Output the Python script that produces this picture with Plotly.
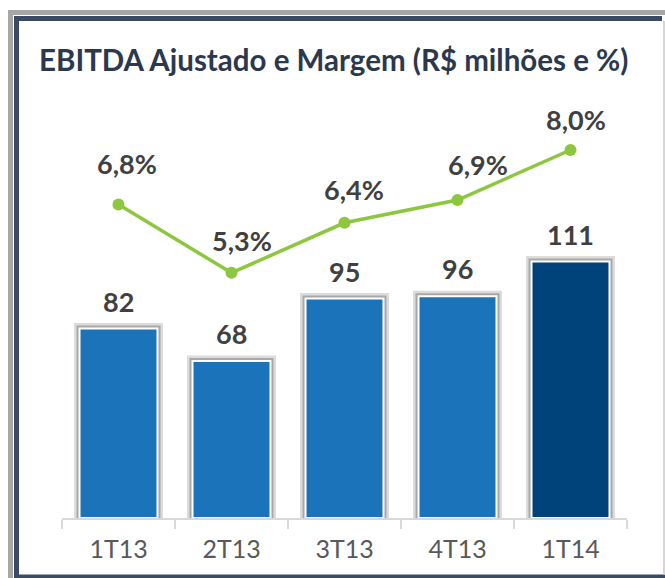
import plotly.graph_objects as go

categories = ["1T13", "2T13", "3T13", "4T13", "1T14"]
ebitda = [82, 68, 95, 96, 111]
margem = [6.8, 5.3, 6.4, 6.9, 8.0]
bar_colors = ["#1B73BA", "#1B73BA", "#1B73BA", "#1B73BA", "#00427A"]
margem_labels = [f"{v:.1f}%".replace(".", ",") for v in margem]

# label offsets (style), pixels
line_label_dx = [8, 10, 9, 20, 5]
line_label_dy = [23, 14, 15, 17, 12]

W, H = 665, 578
L, R, T, B = 62, 38, 100, 60
pw, ph = W - L - R, H - T - B


def px(x):
    return (x - L) / pw


def py(y):
    return (H - B - y) / ph


LABEL_FONT = dict(family="Lato", size=27, color="#404040", weight="bold")

fig = go.Figure()

# soft shadow underlays
fig.add_trace(go.Bar(
    x=categories, y=ebitda, width=0.69,
    marker=dict(color="#DCDCDC", line=dict(color="#DCDCDC", width=11)),
    hoverinfo="skip", showlegend=False,
))
fig.add_trace(go.Bar(
    x=categories, y=ebitda, width=0.69,
    marker=dict(color="#A8A8A8", line=dict(color="#A8A8A8", width=6)),
    hoverinfo="skip", showlegend=False,
))
fig.add_trace(go.Bar(
    x=categories, y=ebitda, width=0.69,
    marker=dict(color=bar_colors, line=dict(color="white", width=2)),
    showlegend=False,
))
fig.add_trace(go.Scatter(
    x=categories, y=margem, yaxis="y2", mode="lines+markers",
    line=dict(color="#8DC63F", width=3.5),
    marker=dict(color="#8DC63F", size=12),
    cliponaxis=False, showlegend=False,
))

annotations = [dict(
    text="<b>EBITDA Ajustado e Margem (R$ milhões e %)</b>",
    xref="paper", yref="paper", x=px(37), y=py(60),
    xanchor="left", yanchor="middle", showarrow=False,
    font=dict(family="Lato", size=29.5, color="#2B384D"),
)]
for c, v in zip(categories, ebitda):
    annotations.append(dict(
        text=str(v), x=c, y=v, xref="x", yref="y",
        xanchor="center", yanchor="bottom", yshift=9,
        showarrow=False, font=LABEL_FONT,
    ))
for c, v, t, dx, dy in zip(categories, margem, margem_labels,
                           line_label_dx, line_label_dy):
    annotations.append(dict(
        text=t, x=c, y=v, xref="x", yref="y2",
        xanchor="center", yanchor="bottom", xshift=dx, yshift=dy,
        showarrow=False, font=LABEL_FONT,
    ))

shapes = [
    dict(type="rect", xref="paper", yref="paper",
         x0=px(10.5), x1=px(680), y0=py(12.5), y1=py(600),
         line=dict(color="#A6A6A6", width=5), layer="above"),
    dict(type="line", xref="paper", yref="paper",
         x0=px(16.5), x1=px(16.5), y0=py(16), y1=py(578),
         line=dict(color="#3B4B63", width=5)),
    dict(type="line", xref="paper", yref="paper",
         x0=px(14), x1=px(662), y0=py(18.5), y1=py(18.5),
         line=dict(color="#3B4B63", width=5)),
    dict(type="line", xref="paper", yref="paper",
         x0=px(14), x1=px(665), y0=py(577), y1=py(577),
         line=dict(color="#3B4B63", width=5)),
    dict(type="line", xref="paper", yref="paper",
         x0=px(664), x1=px(664), y0=py(21), y1=py(575),
         line=dict(color="#C8C8C8", width=1.5)),
]

fig.update_layout(
    width=W, height=H,
    margin=dict(l=L, r=R, t=T, b=B),
    paper_bgcolor="white", plot_bgcolor="white",
    barmode="overlay",
    shapes=shapes,
    annotations=annotations,
    xaxis=dict(
        showline=True, linecolor="#D9D9D9", linewidth=1.5,
        ticks="outside", tickson="boundaries", ticklen=9,
        tickcolor="#D9D9D9", tickwidth=1.5,
        ticklabelstandoff=8,
        tickfont=dict(family="Lato", size=25, color="#595959"),
        showgrid=False, fixedrange=True,
    ),
    yaxis=dict(range=[0, ph / 2.31], visible=False, showgrid=False),
    yaxis2=dict(range=[-(H - B - 514) / 45.5, -(H - B - 514) / 45.5 + ph / 45.5],
                overlaying="y", visible=False, showgrid=False),
)

fig.write_html("out.html",
               config={"displayModeBar": False},
               post_script="document.body.style.margin='0';")
